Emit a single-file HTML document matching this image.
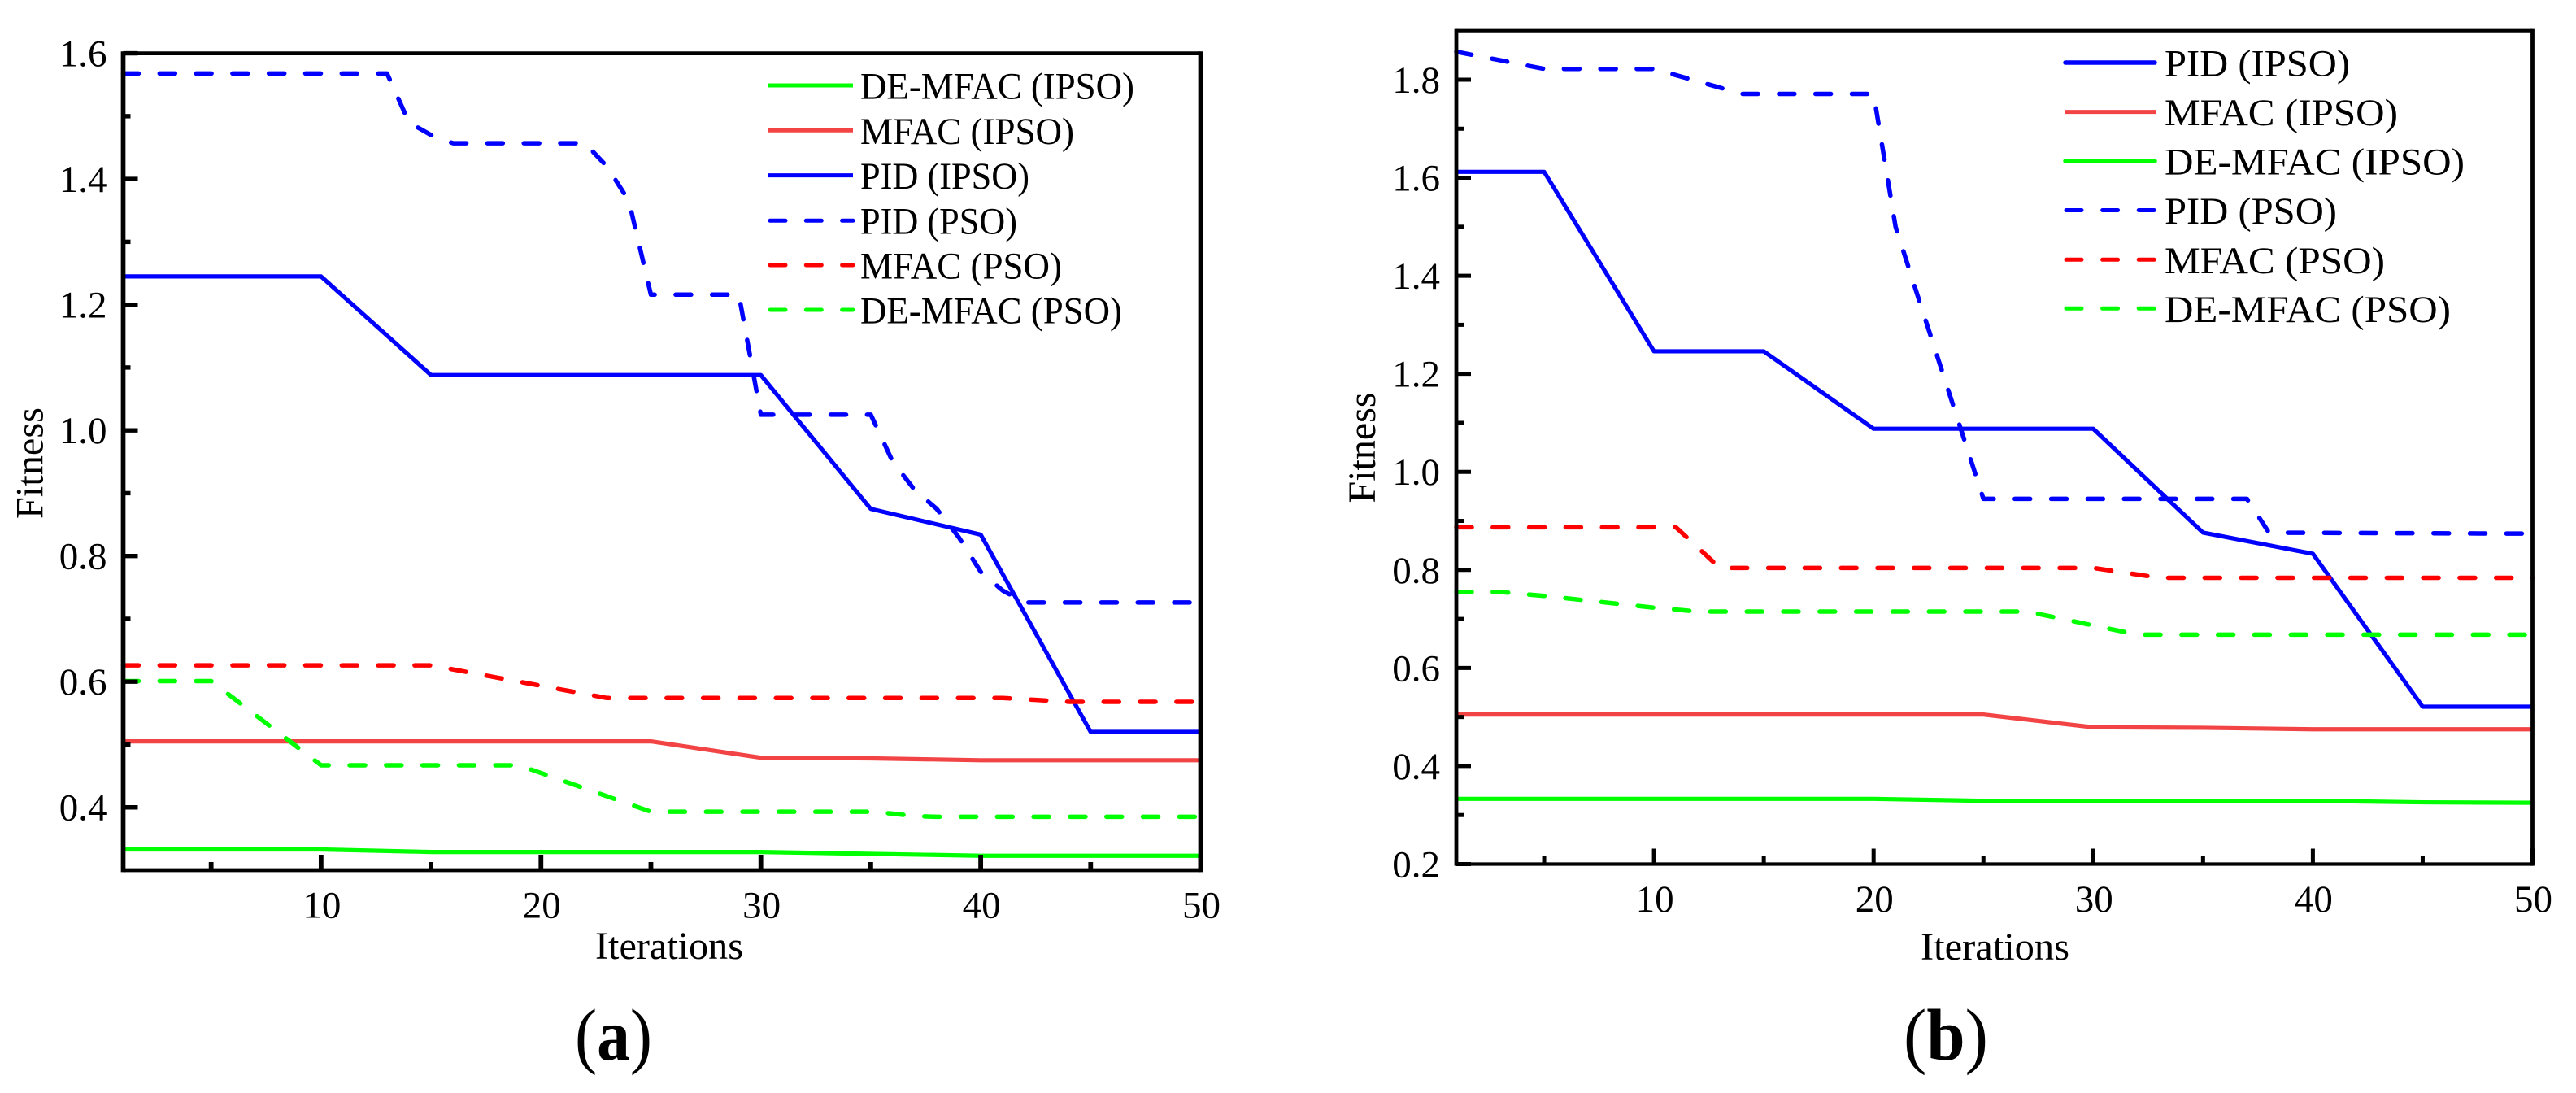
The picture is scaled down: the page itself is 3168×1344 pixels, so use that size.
<!DOCTYPE html>
<html lang="en">
<head>
<meta charset="utf-8">
<title>Fitness vs Iterations</title>
<style>
html,body{margin:0;padding:0;background:#fff;}
svg{display:block;}
text{font-family:"Liberation Serif",serif;fill:#000;}
</style>
</head>
<body>
<svg id="figure" xmlns="http://www.w3.org/2000/svg" width="3168" height="1344" viewBox="0 0 3168 1344">
  <rect x="0" y="0" width="3168" height="1344" fill="#fff"/>
  <g id="chart-a"></g>
  <g id="chart-b"></g>

  <text transform="translate(52.5 638) rotate(-90)" font-size="48" textLength="137" lengthAdjust="spacingAndGlyphs">Fitness</text>
  <text x="732" y="1179" font-size="48" textLength="182" lengthAdjust="spacingAndGlyphs">Iterations</text>
  <text x="707" y="1303" font-size="90" textLength="95" lengthAdjust="spacingAndGlyphs">(<tspan font-weight="bold">a</tspan>)</text>

  <text transform="translate(1691 618.5) rotate(-90)" font-size="48" textLength="136" lengthAdjust="spacingAndGlyphs">Fitness</text>
  <text x="2362" y="1180" font-size="48" textLength="183" lengthAdjust="spacingAndGlyphs">Iterations</text>
  <text x="2341" y="1303" font-size="90" textLength="104" lengthAdjust="spacingAndGlyphs">(<tspan font-weight="bold">b</tspan>)</text>

  <g font-size="47">
    <line x1="945" y1="105" x2="1049" y2="105" stroke="#00ff00" stroke-width="5"/>
    <text x="1058" y="121.5" textLength="337" lengthAdjust="spacingAndGlyphs">DE-MFAC (IPSO)</text>
    <line x1="945" y1="160.3" x2="1049" y2="160.3" stroke="#f24444" stroke-width="5"/>
    <text x="1058" y="176.8" textLength="263" lengthAdjust="spacingAndGlyphs">MFAC (IPSO)</text>
    <line x1="945" y1="215.6" x2="1049" y2="215.6" stroke="#0000ff" stroke-width="5"/>
    <text x="1058" y="232" textLength="208" lengthAdjust="spacingAndGlyphs">PID (IPSO)</text>
    <line x1="947" y1="271.3" x2="1049" y2="271.3" stroke="#0000ff" stroke-width="5" stroke-dasharray="19 25.3" stroke-linecap="round"/>
    <text x="1058" y="287.6" textLength="193" lengthAdjust="spacingAndGlyphs">PID (PSO)</text>
    <line x1="947" y1="326" x2="1049" y2="326" stroke="#ff0000" stroke-width="5" stroke-dasharray="19 25.3" stroke-linecap="round"/>
    <text x="1058" y="342.4" textLength="248" lengthAdjust="spacingAndGlyphs">MFAC (PSO)</text>
    <line x1="947" y1="381" x2="1049" y2="381" stroke="#00ff00" stroke-width="5" stroke-dasharray="19 25.3" stroke-linecap="round"/>
    <text x="1058" y="397.5" textLength="322" lengthAdjust="spacingAndGlyphs">DE-MFAC (PSO)</text>
  </g>

  <g font-size="47">
    <line x1="2540" y1="77" x2="2650" y2="77" stroke="#0000ff" stroke-width="5.5" stroke-linecap="round"/>
    <text x="2662" y="93.5" textLength="228" lengthAdjust="spacingAndGlyphs">PID (IPSO)</text>
    <line x1="2539" y1="137.6" x2="2652" y2="137.6" stroke="#f24444" stroke-width="5"/>
    <text x="2662" y="154" textLength="287" lengthAdjust="spacingAndGlyphs">MFAC (IPSO)</text>
    <line x1="2540" y1="198" x2="2650" y2="198" stroke="#00ff00" stroke-width="5.5" stroke-linecap="round"/>
    <text x="2662" y="214.5" textLength="369" lengthAdjust="spacingAndGlyphs">DE-MFAC (IPSO)</text>
    <line x1="2541" y1="258.5" x2="2650" y2="258.5" stroke="#0000ff" stroke-width="5" stroke-dasharray="19 25.6" stroke-linecap="round"/>
    <text x="2662" y="275" textLength="212" lengthAdjust="spacingAndGlyphs">PID (PSO)</text>
    <line x1="2541" y1="319.3" x2="2650" y2="319.3" stroke="#ff0000" stroke-width="5" stroke-dasharray="19 25.6" stroke-linecap="round"/>
    <text x="2662" y="336" textLength="271" lengthAdjust="spacingAndGlyphs">MFAC (PSO)</text>
    <line x1="2541" y1="379.3" x2="2650" y2="379.3" stroke="#00ff00" stroke-width="5" stroke-dasharray="19 25.6" stroke-linecap="round"/>
    <text x="2662" y="396" textLength="352" lengthAdjust="spacingAndGlyphs">DE-MFAC (PSO)</text>
  </g>
</svg>

<script>
// Shared x-axis tick values
const xMajorTicks = [10, 20, 30, 40, 50];
const xMinorTicks = [5, 15, 25, 35, 45];
const xTickLabels = ["10", "20", "30", "40", "50"];

// Chart (a) y-axis ticks
const aYMajorTicks = [0.4, 0.6, 0.8, 1.0, 1.2, 1.4, 1.6];
const aYMinorTicks = [0.5, 0.7, 0.9, 1.1, 1.3, 1.5];
const aYTickLabels = ["0.4", "0.6", "0.8", "1.0", "1.2", "1.4", "1.6"];

// Chart (a) series: iteration breakpoints and fitness values
const aDeMfacIpsoIter = [1, 10, 15, 30, 40, 50];
const aDeMfacIpsoFit = [0.333, 0.333, 0.329, 0.329, 0.323, 0.323];
const aMfacIpsoIter = [1, 25, 30, 35, 40, 50];
const aMfacIpsoFit = [0.505, 0.505, 0.479, 0.478, 0.475, 0.475];
const aPidIpsoIter = [1, 10, 15, 30, 35, 40, 45, 50];
const aPidIpsoFit = [1.245, 1.245, 1.088, 1.088, 0.875, 0.834, 0.52, 0.52];
const aPidPsoIter = [1, 13, 14, 15, 16, 22, 23, 24, 25, 29, 30, 35, 36, 37, 38, 39, 40, 41, 42, 50];
const aPidPsoFit = [1.568, 1.568, 1.49, 1.47, 1.457, 1.457, 1.42, 1.365, 1.216, 1.216, 1.025, 1.025, 0.95, 0.905, 0.875, 0.83, 0.775, 0.745, 0.726, 0.726];
const aMfacPsoIter = [1, 15, 23, 41, 44, 50];
const aMfacPsoFit = [0.626, 0.626, 0.574, 0.574, 0.568, 0.568];
const aDeMfacPsoIter = [1, 5, 10, 19, 25, 35, 36, 37, 38, 50];
const aDeMfacPsoFit = [0.601, 0.601, 0.467, 0.467, 0.393, 0.393, 0.39, 0.386, 0.385, 0.385];

// Chart (b) y-axis ticks
const bYMajorTicks = [0.2, 0.4, 0.6, 0.8, 1.0, 1.2, 1.4, 1.6, 1.8];
const bYMinorTicks = [0.3, 0.5, 0.7, 0.9, 1.1, 1.3, 1.5, 1.7];
const bYTickLabels = ["0.2", "0.4", "0.6", "0.8", "1.0", "1.2", "1.4", "1.6", "1.8"];

// Chart (b) series: iteration breakpoints and fitness values
const bPidIpsoIter = [1, 5, 10, 15, 20, 30, 35, 40, 45, 50];
const bPidIpsoFit = [1.612, 1.612, 1.246, 1.246, 1.088, 1.088, 0.876, 0.833, 0.521, 0.521];
const bMfacIpsoIter = [1, 25, 30, 35, 40, 50];
const bMfacIpsoFit = [0.505, 0.505, 0.479, 0.478, 0.475, 0.475];
const bDeMfacIpsoIter = [1, 20, 25, 40, 45, 50];
const bDeMfacIpsoFit = [0.333, 0.333, 0.329, 0.329, 0.326, 0.325];
const bPidPsoIter = [1, 5, 10, 14, 20, 21, 22, 25, 37, 38, 50];
const bPidPsoFit = [1.857, 1.822, 1.822, 1.771, 1.771, 1.5, 1.36, 0.945, 0.945, 0.876, 0.874];
const bMfacPsoIter = [1, 11, 13, 30, 33, 50];
const bMfacPsoFit = [0.887, 0.887, 0.804, 0.804, 0.784, 0.784];
const bDeMfacPsoIter = [1, 3, 5, 10, 12, 27, 32, 50];
const bDeMfacPsoFit = [0.755, 0.755, 0.747, 0.723, 0.715, 0.715, 0.668, 0.668];

const SVG_NS = 'http://www.w3.org/2000/svg';

function linearScale(d0, d1, r0, r1) {
  return function (v) { return r0 + (v - d0) * (r1 - r0) / (d1 - d0); };
}

function drawRule(parent, name, x1, y1, x2, y2, width) {
  const t = document.createElementNS(SVG_NS, 'line');
  
  
  t.setAttribute('x1', x1);
  t.setAttribute('y1', y1);
  t.setAttribute('x2', x2);
  t.setAttribute('y2', y2);
  t.setAttribute('stroke', '#000');
  t.setAttribute('stroke-width', width);
  parent.appendChild(t);
}

function drawLabel(parent, prefix, content, x, y, anchor, size) {
  const t = document.createElementNS(SVG_NS, 'text');
  
  
  t.setAttribute('x', x);
  t.setAttribute('y', y);
  t.setAttribute('text-anchor', anchor);
  t.setAttribute('font-size', size);
  t.textContent = content;
  parent.appendChild(t);
}

function drawSeries(parent, name, iters, fits, sx, sy, color, dashed) {
  const p = document.createElementNS(SVG_NS, 'polyline');
  
  
  p.setAttribute('points', iters.map(function (it, k) {
    return sx(it).toFixed(2) + ',' + sy(fits[k]).toFixed(2);
  }).join(' '));
  p.setAttribute('fill', 'none');
  p.setAttribute('stroke', color);
  p.setAttribute('stroke-width', dashed ? 5.5 : 5.2);
  p.setAttribute('stroke-linejoin', 'round');
  if (dashed) {
    p.setAttribute('stroke-dasharray', '19 25.8');
    p.setAttribute('stroke-linecap', 'round');
  }
  parent.appendChild(p);
}

function drawFrame(parent, key, box, vw, hw) {
  drawRule(parent, key + '-left-axis-line', box.left, box.top - hw / 2, box.left, box.bottom + hw / 2, vw);
  drawRule(parent, key + '-right-axis-line', box.right, box.top - hw / 2, box.right, box.bottom + hw / 2, vw);
  drawRule(parent, key + '-top-axis-line', box.left, box.top, box.right, box.top, hw);
  drawRule(parent, key + '-bottom-axis-line', box.left, box.bottom, box.right, box.bottom, hw);
}

function drawAxes(g, key, box, sx, sy, yMajor, yMinor, yLabels, opts) {
  xMajorTicks.forEach(function (v) {
    drawRule(g, key + '-x-major-tick-' + v, sx(v), box.bottom, sx(v), box.bottom - 19, opts.xTickWidth);
  });
  xMinorTicks.forEach(function (v) {
    drawRule(g, key + '-x-minor-tick-' + v, sx(v), box.bottom, sx(v), box.bottom - 10, opts.xTickWidth);
  });
  yMajor.forEach(function (v) {
    drawRule(g, key + '-y-major-tick-' + v, box.left, sy(v), box.left + 18, sy(v), opts.yTickWidth);
  });
  yMinor.forEach(function (v) {
    drawRule(g, key + '-y-minor-tick-' + v, box.left, sy(v), box.left + 9, sy(v), opts.yTickWidth);
  });
  xTickLabels.forEach(function (lab, k) {
    drawLabel(g, key + '-x-tick-label', lab, sx(xMajorTicks[k]) + 1, opts.xLabelBaseline, 'middle', 47);
  });
  yLabels.forEach(function (lab, k) {
    drawLabel(g, key + '-y-tick-label', lab, opts.yLabelRight, sy(yMajor[k]) + 16, 'end', 47);
  });
}

// Chart (a)
const gA = document.getElementById('chart-a');
const boxA = { left: 151.5, top: 65.6, right: 1476.5, bottom: 1070 };
const sxA = linearScale(1, 50, boxA.left, boxA.right);
const syA = linearScale(0.3, 1.6, boxA.bottom, boxA.top);
drawSeries(gA, 'series-a-de-mfac-ipso', aDeMfacIpsoIter, aDeMfacIpsoFit, sxA, syA, '#00ff00', false);
drawSeries(gA, 'series-a-mfac-ipso', aMfacIpsoIter, aMfacIpsoFit, sxA, syA, '#f24444', false);
drawSeries(gA, 'series-a-pid-ipso', aPidIpsoIter, aPidIpsoFit, sxA, syA, '#0000ff', false);
drawSeries(gA, 'series-a-pid-pso', aPidPsoIter, aPidPsoFit, sxA, syA, '#0000ff', true);
drawSeries(gA, 'series-a-mfac-pso', aMfacPsoIter, aMfacPsoFit, sxA, syA, '#ff0000', true);
drawSeries(gA, 'series-a-de-mfac-pso', aDeMfacPsoIter, aDeMfacPsoFit, sxA, syA, '#00ff00', true);
drawAxes(gA, 'chart-a', boxA, sxA, syA, aYMajorTicks, aYMinorTicks, aYTickLabels, { xLabelBaseline: 1128.5, yLabelRight: 131.5, xTickWidth: 5.8, yTickWidth: 5.4 });
drawFrame(gA, 'chart-a', boxA, 5.7, 4.8);

// Chart (b)
const gB = document.getElementById('chart-b');
const boxB = { left: 1791, top: 37.7, right: 3114.5, bottom: 1062.5 };
const sxB = linearScale(1, 50, boxB.left, boxB.right);
const syB = linearScale(0.2, 1.9, boxB.bottom, boxB.top);
drawSeries(gB, 'series-b-de-mfac-ipso', bDeMfacIpsoIter, bDeMfacIpsoFit, sxB, syB, '#00ff00', false);
drawSeries(gB, 'series-b-mfac-ipso', bMfacIpsoIter, bMfacIpsoFit, sxB, syB, '#f24444', false);
drawSeries(gB, 'series-b-pid-ipso', bPidIpsoIter, bPidIpsoFit, sxB, syB, '#0000ff', false);
drawSeries(gB, 'series-b-pid-pso', bPidPsoIter, bPidPsoFit, sxB, syB, '#0000ff', true);
drawSeries(gB, 'series-b-mfac-pso', bMfacPsoIter, bMfacPsoFit, sxB, syB, '#ff0000', true);
drawSeries(gB, 'series-b-de-mfac-pso', bDeMfacPsoIter, bDeMfacPsoFit, sxB, syB, '#00ff00', true);
drawAxes(gB, 'chart-b', boxB, sxB, syB, bYMajorTicks, bYMinorTicks, bYTickLabels, { xLabelBaseline: 1120.8, yLabelRight: 1771, xTickWidth: 5, yTickWidth: 5 });
drawFrame(gB, 'chart-b', boxB, 4.8, 4.2);
</script>
</body>
</html>
